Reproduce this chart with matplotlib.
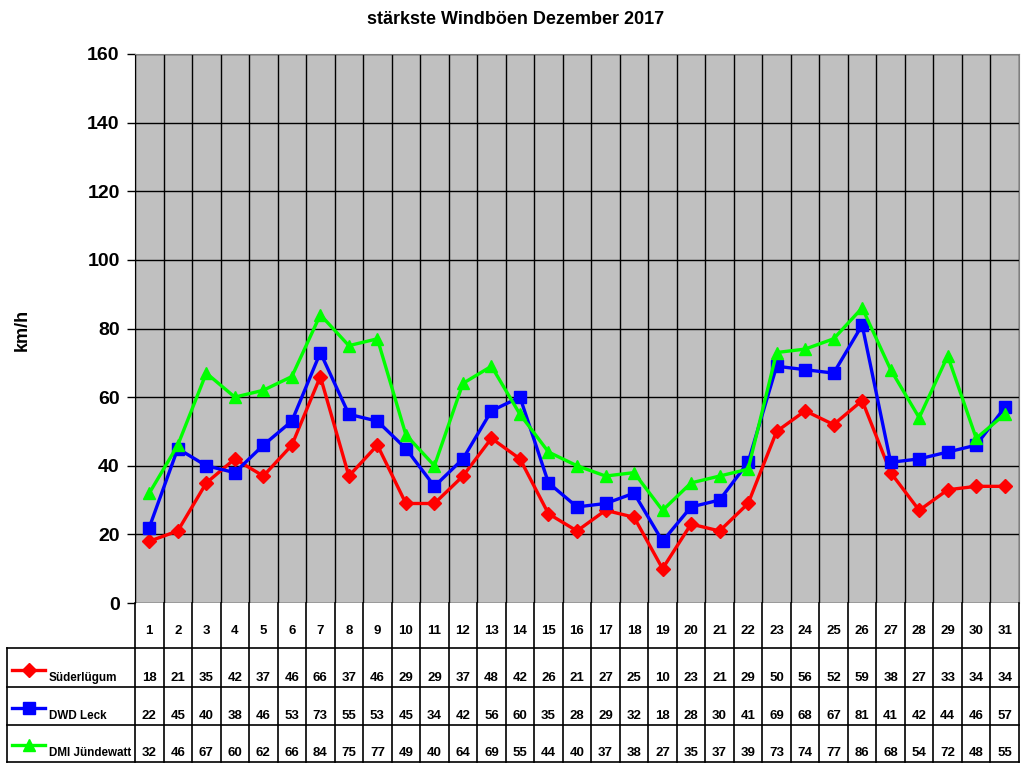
import numpy as np
import matplotlib.pyplot as plt

plt.rcParams['font.family'] = ['Liberation Sans', 'DejaVu Sans']
plt.rcParams['font.weight'] = 'bold'

days = list(range(1, 32))
suederluegum = [18, 21, 35, 42, 37, 46, 66, 37, 46, 29, 29, 37, 48, 42, 26, 21,
                27, 25, 10, 23, 21, 29, 50, 56, 52, 59, 38, 27, 33, 34, 34]
dwd_leck = [22, 45, 40, 38, 46, 53, 73, 55, 53, 45, 34, 42, 56, 60, 35, 28,
            29, 32, 18, 28, 30, 41, 69, 68, 67, 81, 41, 42, 44, 46, 57]
dmi_juendewatt = [32, 46, 67, 60, 62, 66, 84, 75, 77, 49, 40, 64, 69, 55, 44, 40,
                  37, 38, 27, 35, 37, 39, 73, 74, 77, 86, 68, 54, 72, 48, 55]

series = [
    ("Süderlügum", suederluegum, "#ff0000", "D", 7.5),
    ("DWD Leck", dwd_leck, "#0000ff", "s", 8),
    ("DMI Jündewatt", dmi_juendewatt, "#00ff00", "^", 9),
]

W, H = 1024, 768
fig = plt.figure(figsize=(W / 100, H / 100), dpi=100)

# pixel layout of the plot area
pl, pr, pt, pb = 135, 1019, 54, 603
ax = fig.add_axes([pl / W, (H - pb) / H, (pr - pl) / W, (pb - pt) / H])
ax.set_facecolor("#c0c0c0")
ax.set_xlim(0.5, 31.5)
ax.set_ylim(0, 160)
ax.set_yticks(range(0, 161, 20))
ax.set_xticks([])
ax.set_xticks(np.arange(0.5, 32, 1), minor=True)
ax.tick_params(axis='x', which='both', length=0)
ax.tick_params(axis='y', length=6, width=1, pad=5, labelsize=14)
for lab in ax.get_yticklabels():
    lab.set_fontweight('bold')
ax.grid(True, which='minor', axis='x', color='black', linewidth=1)
ax.grid(True, which='major', axis='y', color='black', linewidth=1)
ax.set_axisbelow(True)
for s in ['top', 'right']:
    ax.spines[s].set_color('#808080')
ax.spines['bottom'].set_visible(False)

for name, vals, col, mk, ms in series:
    ax.plot(days, vals, color=col, linewidth=2.4, marker=mk, markersize=ms,
            markeredgecolor=col, clip_on=False)

fig.text(0.503, 0.974, "stärkste Windböen Dezember 2017", ha='center', va='center',
         fontsize=13, fontweight='bold')
fig.text(22 / W, 1 - 330 / H, "km/h", rotation=90, ha='center', va='center',
         fontsize=13, fontweight='bold')

# data table below the chart, in pixel coordinates
ov = fig.add_axes([0, 0, 1, 1])
ov.set_xlim(0, W)
ov.set_ylim(H, 0)
ov.axis('off')

bounds = np.arange(0.5, 32, 1)
xb = ax.transData.transform(np.column_stack([bounds, np.zeros_like(bounds)]))[:, 0]
xc = ax.transData.transform(np.column_stack([days, np.zeros(len(days))]))[:, 0]

lab_left = 7
rows_y = [603, 648, 687, 725, 762]
lw = 1.2
for x in xb:
    ov.plot([x, x], [rows_y[0], rows_y[-1]], color='black', linewidth=lw)
for y in rows_y[1:]:
    ov.plot([lab_left, xb[-1]], [y, y], color='black', linewidth=lw)
ov.plot([lab_left, lab_left], [rows_y[1], rows_y[-1]], color='black', linewidth=lw)

for x, d in zip(xc, days):
    ov.text(x, 631, str(d), ha='center', va='center', fontsize=9.5, fontweight='bold')

for i, (name, vals, col, mk, ms) in enumerate(series):
    yb = rows_y[i + 2]
    ty = yb - 9
    for x, v in zip(xc, vals):
        ov.text(x, ty, str(v), ha='center', va='center', fontsize=9.5, fontweight='bold')
    ov.text(49, ty, name, ha='left', va='center', fontsize=8.4, fontweight='bold')
    ov.plot([12, 45], [ty - 8, ty - 8], color=col, linewidth=2.4)
    ov.plot([28.5], [ty - 8], color=col, marker=mk, markersize=ms, markeredgecolor=col)

fig.savefig("out.png", dpi=100)
